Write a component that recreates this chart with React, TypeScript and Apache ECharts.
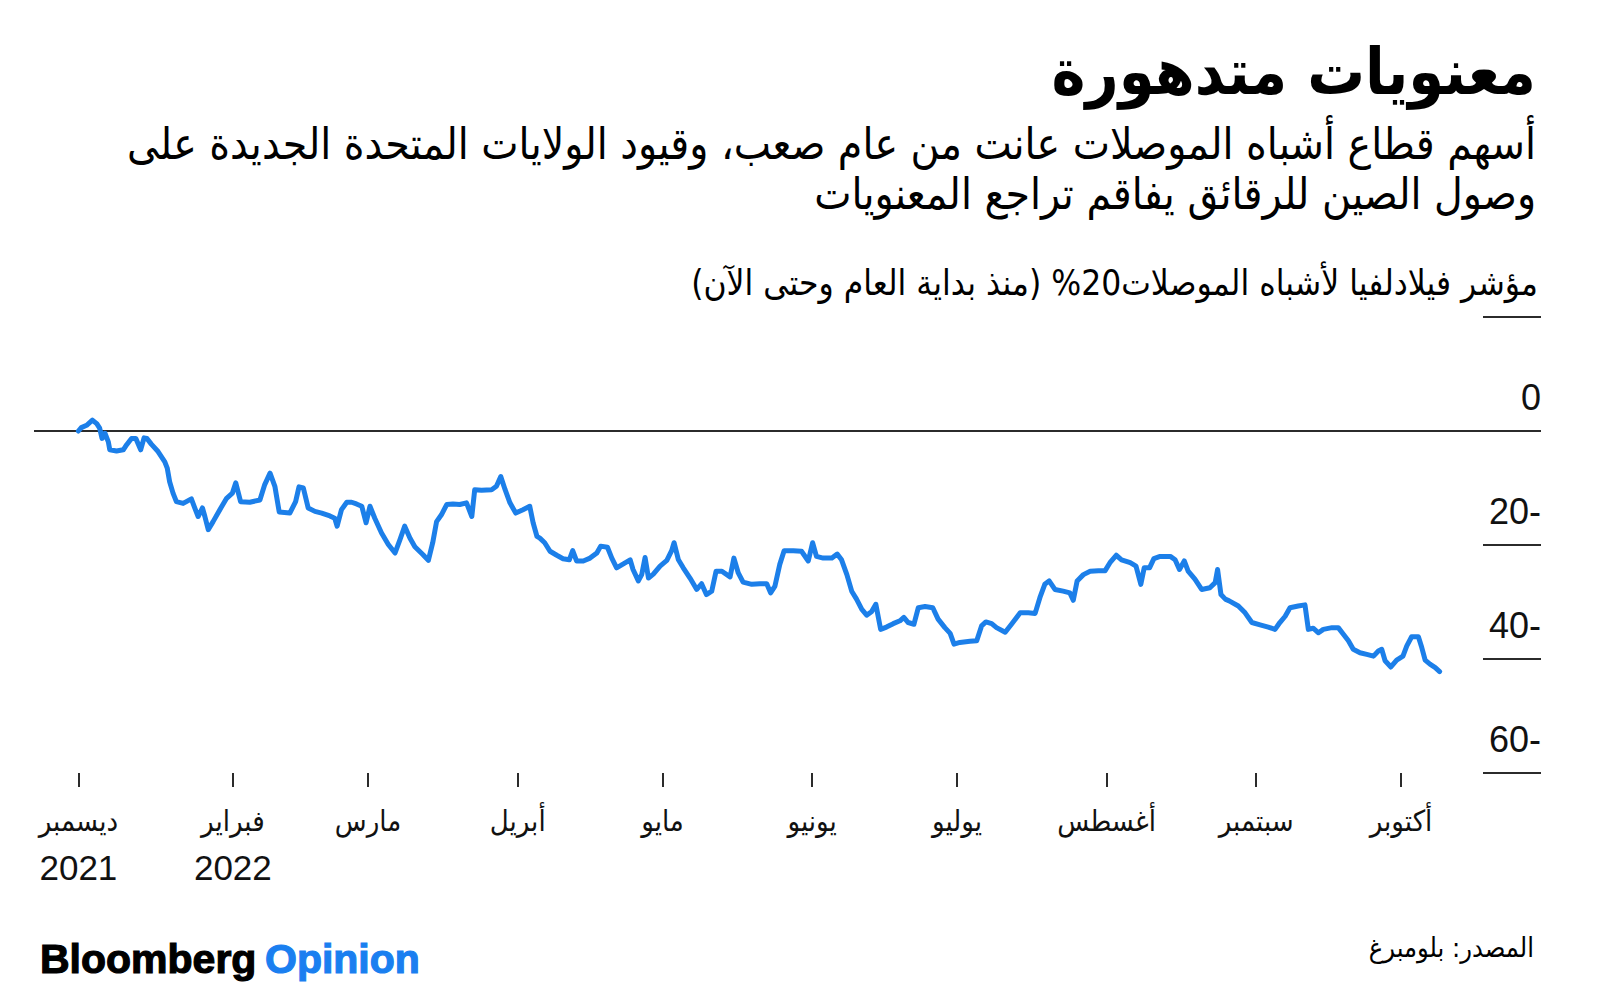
import { useEffect, useRef } from "react";
import * as echarts from "echarts";

const TITLE = "معنويات متدهورة";
const SUBTITLE_LINES = [
  "أسهم قطاع أشباه الموصلات عانت من عام صعب، وقيود الولايات المتحدة الجديدة على",
  "وصول الصين للرقائق يفاقم تراجع المعنويات",
];
const UNIT_LABEL = "\u200Fمؤشر فيلادلفيا لأشباه الموصلات20% (منذ بداية العام وحتى الآن)\u200F";
const SOURCE = "المصدر: بلومبرغ";
const BRAND = "Bloomberg";
const BRAND_2 = "Opinion";

// days since 2021-12-31
const days = [
  0, 0.6, 1.7, 2.9, 3.8, 4.4, 4.9, 5.5, 6.2, 6.5,
  7.9, 9.3, 10.0, 11.0, 11.9, 12.9, 13.6, 14.2, 15.1, 16.5,
  17.9, 18.4, 18.9, 19.6, 20.3, 21.7, 23.4, 24.1, 24.8, 25.7,
  26.2, 26.9, 27.9, 29.3, 30.7, 31.9, 32.6, 33.6, 35.5, 37.6,
  38.6, 39.7, 40.7, 41.6, 43.8, 45.0, 45.7, 46.6, 47.6, 49.0,
  50.4, 52.1, 53.1, 53.6, 54.5, 55.6, 56.6, 57.6, 58.7, 59.6,
  60.4, 61.4, 62.8, 64.2, 65.6, 66.6, 67.6, 68.7, 69.7, 71.4,
  72.5, 73.4, 74.2, 75.2, 76.3, 77.6, 79.0, 80.4, 81.5, 82.1,
  83.5, 85.6, 86.6, 87.5, 88.4, 89.4, 90.6, 92.1, 93.5, 94.2,
  95.0, 95.6, 96.6, 97.7, 99.1, 100.4, 101.7, 102.4, 103.2, 104.6,
  106.0, 107.4, 108.2, 109.6, 110.5, 111.5, 112.9, 114.3, 114.9, 116.0,
  116.7, 117.4, 118.1, 119.1, 120.5, 121.9, 122.9, 123.4, 124.3, 125.3,
  126.7, 128.1, 129.1, 130.1, 131.2, 132.1, 133.3, 135.0, 135.8, 136.7,
  137.7, 139.5, 141.2, 142.6, 143.4, 144.3, 145.3, 146.2, 148.1, 149.8,
  151.2, 152.1, 152.9, 154.3, 156.1, 157.2, 158.1, 159.2, 160.2, 161.2,
  162.3, 163.3, 164.3, 165.2, 166.2, 167.4, 168.8, 170.2, 171.0, 171.9,
  173.1, 174.0, 175.4, 177.0, 178.1, 179.5, 180.6, 181.4, 182.6, 184.7,
  186.1, 187.1, 188.0, 189.2, 190.2, 192.0, 193.3, 195.1, 196.8, 198.2,
  199.2, 200.2, 201.1, 202.3, 204.0, 205.4, 206.1, 206.9, 208.2, 209.6,
  211.3, 212.7, 213.7, 215.0, 216.1, 217.9, 219.1, 220.1, 220.8, 221.9,
  222.8, 224.1, 226.2, 227.2, 228.1, 229.1, 229.9, 231.3, 232.7, 234.4,
  235.5, 236.0, 236.7, 237.6, 238.4, 240.3, 241.7, 243.1, 244.8, 246.5,
  247.9, 248.9, 250.0, 251.0, 252.7, 254.1, 254.8, 255.8, 256.9, 257.9,
  259.7, 261.0, 262.1, 263.1, 264.1, 265.5, 266.9, 268.3, 269.3, 270.0,
  270.7, 271.9, 273.1, 274.4, 275.2, 276.2, 277.6, 278.3, 279.0, 280.0,
  281.1, 282.0,
];

// % change since start of year
const ytdChange = [
  0, 0.6, 1.0, 1.9, 1.3, 0.5, -1.3, -0.4, -1.9, -3.3,
  -3.5, -3.3, -2.4, -1.3, -1.3, -3.3, -1.2, -1.3, -2.3, -3.6,
  -5.4, -6.5, -8.9, -10.9, -12.4, -12.7, -11.9, -13.5, -15.0, -13.5,
  -15.0, -17.3, -15.9, -13.8, -11.8, -10.9, -9.1, -12.4, -12.5, -12.1,
  -9.4, -7.4, -9.7, -14.2, -14.4, -12.4, -9.8, -10.0, -13.5, -14.1,
  -14.4, -14.9, -15.3, -16.7, -13.8, -12.5, -12.5, -12.8, -13.2, -16.1,
  -13.2, -15.3, -17.9, -19.9, -21.4, -19.1, -16.7, -18.8, -20.3, -21.7,
  -22.7, -19.6, -15.9, -14.7, -12.9, -12.8, -12.9, -12.6, -15.0, -10.3,
  -10.4, -10.3, -9.7, -8.0, -10.3, -12.6, -14.4, -13.8, -13.2, -16.1,
  -18.5, -18.8, -19.6, -21.1, -21.8, -22.4, -22.6, -21.0, -22.8, -22.8,
  -22.3, -21.4, -20.2, -20.4, -22.3, -24.0, -23.3, -22.6, -24.3, -26.3,
  -25.2, -22.2, -25.8, -25.1, -23.7, -22.7, -21.0, -19.6, -22.6, -24.0,
  -25.8, -27.8, -26.8, -28.7, -28.1, -24.6, -24.6, -25.6, -22.3, -24.9,
  -26.5, -26.9, -26.8, -26.8, -28.4, -27.2, -23.4, -21.0, -21.0, -21.1,
  -22.8, -19.6, -22.0, -22.3, -22.3, -21.6, -22.6, -25.2, -28.1, -29.5,
  -31.3, -32.3, -31.7, -30.4, -34.8, -34.4, -33.8, -33.3, -32.7, -33.6,
  -33.9, -31.0, -30.8, -31.0, -33.0, -34.5, -35.5, -37.4, -37.1, -36.9,
  -36.8, -34.2, -33.5, -33.8, -34.5, -35.3, -33.9, -31.9, -31.9, -32.0,
  -29.2, -26.9, -26.3, -27.8, -28.1, -28.4, -29.7, -26.3, -25.2, -24.6,
  -24.5, -24.5, -23.1, -21.8, -22.6, -23.1, -23.7, -26.9, -24.0, -24.0,
  -22.4, -22.0, -22.0, -22.6, -24.3, -22.8, -24.6, -26.0, -27.8, -27.5,
  -26.6, -24.3, -28.7, -29.5, -29.8, -30.7, -31.9, -33.6, -34.0, -34.4,
  -34.8, -33.6, -32.5, -31.0, -30.7, -30.5, -34.8, -34.6, -35.4, -34.8,
  -34.5, -34.5, -35.7, -36.8, -38.3, -38.9, -39.2, -39.5, -38.6, -38.3,
  -40.3, -41.4, -40.2, -39.5, -37.7, -36.1, -36.1, -38.0, -40.2, -40.9,
  -41.5, -42.2,
];

const tickDays = [0, 32, 60, 91, 121, 152, 182, 213, 244, 274];
const monthLabels = [
  "ديسمبر", "فبراير", "مارس", "أبريل", "مايو",
  "يونيو", "يوليو", "أغسطس", "سبتمبر", "أكتوبر",
];
const yearLabels = ["2021", "2022", "", "", "", "", "", "", "", ""];

const Y_MIN = -60;
const Y_MAX = 20;
const Y_STEP = 20;

const AR = "'DejaVu Sans Condensed', 'DejaVu Sans', sans-serif";
const LAT = "'Liberation Sans', Arial, Helvetica, sans-serif";
const LINE_BLUE = "#1c7fe9";
const BRAND_BLUE = "#1a7ff0";
const DARK = "#2b2b2b";

export default function App() {
  const ref = useRef<HTMLDivElement>(null);

  useEffect(() => {
    if (!ref.current) return;
    const chart = echarts.init(ref.current, undefined, { renderer: "svg" });
    const seriesData = days.map((d, i) => [d, ytdChange[i]]);

    const gridTop = 317;
    const gridHeight = 456;

    chart.setOption({
      animation: false,
      backgroundColor: "#ffffff",
      grid: [
        { left: 34, top: gridTop, width: 1507, height: gridHeight },
        { left: 1483, top: gridTop, width: 58, height: gridHeight },
      ],
      xAxis: [
        {
          type: "value",
          gridIndex: 0,
          min: -9.2,
          max: 303,
          position: "bottom",
          axisLine: { show: false, onZero: false },
          splitLine: { show: false },
          axisTick: {
            show: true,
            customValues: tickDays,
            length: 14,
            lineStyle: { color: DARK, width: 2 },
          },
          axisLabel: {
            show: true,
            customValues: tickDays,
            margin: 24,
            formatter: (v: number) => {
              const i = tickDays.indexOf(v);
              if (i < 0) return "";
              const m = monthLabels[i];
              const y = yearLabels[i];
              return y ? `{m|${m}}\n{y|${y}}` : `{m|${m}}`;
            },
            rich: {
              m: { fontFamily: AR, fontSize: 29, lineHeight: 47, color: "#111" },
              y: { fontFamily: LAT, fontSize: 35, lineHeight: 47, color: "#111" },
            },
          },
        },
        {
          type: "value",
          gridIndex: 1,
          min: 0,
          max: 1,
          show: false,
        },
      ],
      yAxis: [
        {
          type: "value",
          gridIndex: 0,
          min: Y_MIN,
          max: Y_MAX,
          interval: Y_STEP,
          position: "right",
          axisLine: { show: false },
          axisTick: { show: false },
          splitLine: { show: false },
          axisLabel: {
            inside: true,
            margin: 0,
            align: "right",
            verticalAlign: "bottom",
            lineHeight: 40,
            padding: [0, 0, 14, 0],
            fontFamily: LAT,
            fontSize: 36,
            color: "#111",
            formatter: (v: number) => {
              if (v > 0) return "";
              if (v === 0) return "0";
              return `${-v}-`;
            },
          },
        },
        {
          type: "value",
          gridIndex: 1,
          min: Y_MIN,
          max: Y_MAX,
          interval: Y_STEP,
          axisLine: { show: false },
          axisTick: { show: false },
          axisLabel: { show: false },
          splitLine: { show: true, lineStyle: { color: DARK, width: 2 } },
        },
      ],
      series: [
        {
          type: "line",
          xAxisIndex: 0,
          yAxisIndex: 0,
          data: seriesData,
          symbol: "none",
          smooth: false,
          lineStyle: { color: LINE_BLUE, width: 5, join: "round", cap: "round" },
          z: 3,
          markLine: {
            silent: true,
            symbol: ["none", "none"],
            label: { show: false },
            lineStyle: { color: DARK, width: 2, type: "solid" },
            data: [{ yAxis: 0 }],
            z: 1,
          },
        },
      ],
      graphic: [
        {
          type: "text",
          x: 1536,
          y: 72,
          style: {
            text: TITLE,
            fontFamily: AR,
            fontSize: 64,
            fontWeight: "bold",
            fill: "#000",
            align: "right",
            verticalAlign: "middle",
          },
        },
        {
          type: "text",
          x: 1536,
          y: 143,
          style: {
            text: SUBTITLE_LINES[0],
            fontFamily: AR,
            fontSize: 44,
            fill: "#000",
            align: "right",
            verticalAlign: "middle",
          },
        },
        {
          type: "text",
          x: 1536,
          y: 193,
          style: {
            text: SUBTITLE_LINES[1],
            fontFamily: AR,
            fontSize: 44,
            fill: "#000",
            align: "right",
            verticalAlign: "middle",
          },
        },
        {
          type: "text",
          x: 1538,
          y: 283,
          style: {
            text: UNIT_LABEL,
            fontFamily: AR,
            fontSize: 35,
            fill: "#000",
            align: "right",
            verticalAlign: "middle",
          },
        },
        {
          type: "text",
          x: 1534,
          y: 947,
          style: {
            text: SOURCE,
            fontFamily: AR,
            fontSize: 27,
            fill: "#000",
            align: "right",
            verticalAlign: "middle",
          },
        },
        {
          type: "text",
          x: 40,
          y: 959,
          style: {
            text: BRAND,
            fontFamily: LAT,
            fontSize: 41,
            fontWeight: "bold",
            fill: "#000",
            stroke: "#000",
            lineWidth: 1.2,
            align: "left",
            verticalAlign: "middle",
          },
        },
        {
          type: "text",
          x: 265,
          y: 959,
          style: {
            text: BRAND_2,
            fontFamily: LAT,
            fontSize: 41,
            fontWeight: "bold",
            fill: BRAND_BLUE,
            stroke: BRAND_BLUE,
            lineWidth: 1.2,
            align: "left",
            verticalAlign: "middle",
          },
        },
      ],
    });

    return () => chart.dispose();
  }, []);

  return (
    <div
      ref={ref}
      style={{ position: "fixed", left: 0, top: 0, width: 1600, height: 986, background: "#fff" }}
    />
  );
}
